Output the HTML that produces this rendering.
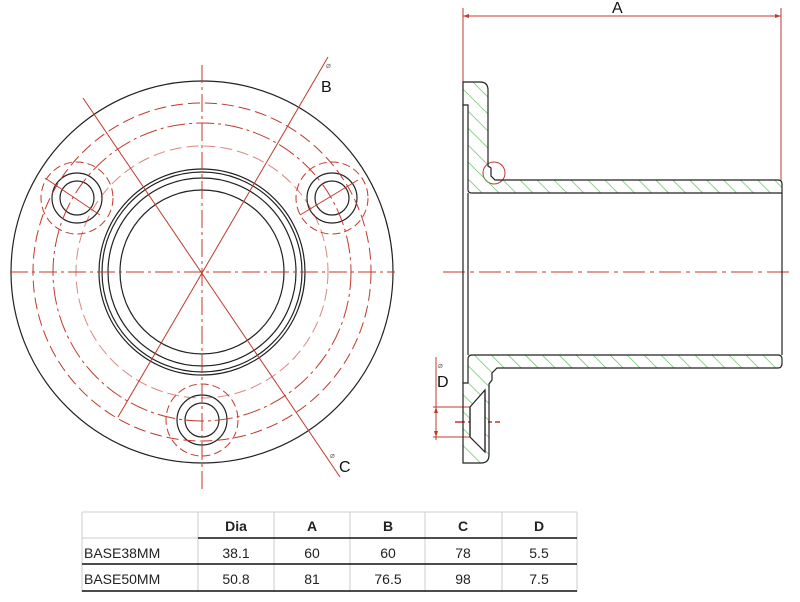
<!DOCTYPE html>
<html><head><meta charset="utf-8"><style>
html,body{margin:0;padding:0;background:#fff;}
svg{display:block}
text{font-family:"Liberation Sans",sans-serif}
</style></head><body>
<svg width="800" height="602" viewBox="0 0 800 602" xmlns="http://www.w3.org/2000/svg">
<defs>
<pattern id="h" patternUnits="userSpaceOnUse" width="12" height="12" patternTransform="rotate(-45)">
<line x1="0" y1="0" x2="0" y2="12" stroke="#5cc05c" stroke-width="1.4"/>
</pattern>
</defs>
<!-- LEFT VIEW -->
<g fill="none">
<circle cx="202" cy="272" r="191" stroke="#222" stroke-width="1.2"/>
<circle cx="202" cy="272" r="103" stroke="#222" stroke-width="1.2"/>
<circle cx="202" cy="272" r="100" stroke="#222" stroke-width="1.2"/>
<circle cx="202" cy="272" r="94" stroke="#222" stroke-width="1.2"/>
<circle cx="202" cy="272" r="82" stroke="#222" stroke-width="1.2"/>
<circle cx="77" cy="198" r="25" stroke="#222" stroke-width="1.2"/>
<circle cx="77" cy="198" r="17" stroke="#222" stroke-width="1.2"/>
<circle cx="332" cy="198" r="25" stroke="#222" stroke-width="1.2"/>
<circle cx="332" cy="198" r="17" stroke="#222" stroke-width="1.2"/>
<circle cx="202" cy="420" r="25" stroke="#222" stroke-width="1.2"/>
<circle cx="202" cy="420" r="17" stroke="#222" stroke-width="1.2"/>
<g stroke="#c0392b" stroke-width="1">
<circle cx="202" cy="272" r="169" stroke-dasharray="12,5"/>
<circle cx="202" cy="272" r="149" stroke-dasharray="18,4,3,4"/>
<circle cx="202" cy="272" r="126" stroke-dasharray="12,5" opacity="0.6"/>
<circle cx="77" cy="198" r="36" stroke-dasharray="8,4"/>
<circle cx="332" cy="198" r="36" stroke-dasharray="8,4"/>
<circle cx="202" cy="420" r="36" stroke-dasharray="8,4"/>
<line x1="202" y1="65" x2="202" y2="490" stroke-dasharray="18,4,3,4"/>
<line x1="10" y1="272" x2="395" y2="272" stroke-dasharray="18,4,3,4"/>
<line x1="328" y1="57" x2="118" y2="417"/>
<line x1="83" y1="98" x2="340" y2="477"/>
<line x1="45" y1="178" x2="100" y2="215"/>
<line x1="300" y1="215" x2="358" y2="180"/>
</g>
</g>
<text x="321" y="92" font-size="16" fill="#111">B</text>
<text x="326" y="68" font-size="8" fill="#666">⌀</text>
<text x="339" y="472" font-size="16" fill="#111">C</text>
<text x="330" y="458" font-size="8" fill="#666">⌀</text>

<!-- RIGHT VIEW -->
<g stroke="#c0392b" stroke-width="1" fill="none">
<line x1="463" y1="8" x2="463" y2="82"/>
<line x1="781" y1="8" x2="781" y2="180"/>
<line x1="463" y1="16" x2="781" y2="16"/>
<line x1="443" y1="272" x2="790" y2="272" stroke-dasharray="22,5,4,5"/>
<line x1="436" y1="357" x2="436" y2="440"/>
<line x1="433" y1="407" x2="470" y2="407"/>
<line x1="433" y1="437" x2="470" y2="437"/>
<line x1="455" y1="422" x2="500" y2="422" stroke-width="1.5" stroke-dasharray="10,3,4,3"/>
<circle cx="494" cy="173" r="11"/>
</g>
<path d="M463,16 l6,-2 v4z M781,16 l-6,-2 v4z M436,407 l-2,6 h4z M436,437 l-2,-6 h4z" fill="#c0392b"/>
<text x="612" y="13" font-size="16" fill="#111">A</text>
<text x="437" y="387" font-size="16" fill="#111">D</text>
<text x="438" y="368" font-size="8" fill="#666">⌀</text>

<g stroke="#222" stroke-width="1.2">
<path d="M463,82 H480 Q488,82 488,90 V166 L491,168 V176 L495,180 H778 Q782,180 782,184 V193 H472 Q468,193 468,190 V105 H463 Z" fill="url(#h)"/>
<path d="M472,355 H778 Q782,355 782,359 V363 Q782,368 778,368 H497 L492,373 V380 L489,384 V455 Q489,463 481,463 H463 V383 H468 V359 Q468,355 472,355 Z" fill="url(#h)"/>
<path d="M470,407 L485,390 V452 L470,437 Z" fill="#fff"/>
<line x1="470" y1="407" x2="470" y2="437"/>
<line x1="485" y1="390" x2="485" y2="452"/>
<line x1="468" y1="193" x2="468" y2="355"/>
<line x1="463" y1="105" x2="463" y2="383"/>
<line x1="782" y1="193" x2="782" y2="355"/>
</g>

<!-- TABLE -->
<g stroke="#ccc" stroke-width="1">
<line x1="82" y1="512" x2="577" y2="512"/>
<line x1="82" y1="512" x2="82" y2="592"/>
<line x1="577" y1="512" x2="577" y2="592"/>
<line x1="198" y1="512" x2="198" y2="592"/>
<line x1="274" y1="512" x2="274" y2="592"/>
<line x1="350" y1="512" x2="350" y2="592"/>
<line x1="425" y1="512" x2="425" y2="592"/>
<line x1="502" y1="512" x2="502" y2="592"/>
<line x1="82" y1="538" x2="198" y2="538"/>
</g>
<g stroke="#111" stroke-width="1.6">
<line x1="198" y1="538" x2="577" y2="538"/>
<line x1="82" y1="564" x2="577" y2="564"/>
<line x1="82" y1="591" x2="577" y2="591"/>
</g>
<g font-size="14" fill="#222" text-anchor="middle">
<g font-weight="bold">
<text x="236" y="531">Dia</text><text x="312" y="531">A</text><text x="388" y="531">B</text><text x="463" y="531">C</text><text x="539" y="531">D</text>
</g>
<text x="236" y="558">38.1</text><text x="312" y="558">60</text><text x="388" y="558">60</text><text x="463" y="558">78</text><text x="539" y="558">5.5</text>
<text x="236" y="584">50.8</text><text x="312" y="584">81</text><text x="388" y="584">76.5</text><text x="463" y="584">98</text><text x="539" y="584">7.5</text>
<text x="84" y="558" text-anchor="start">BASE38MM</text>
<text x="84" y="584" text-anchor="start">BASE50MM</text>
</g>
</svg>
</body></html>
